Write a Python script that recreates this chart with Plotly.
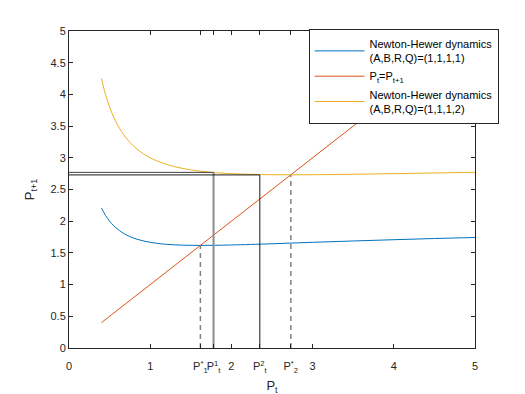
import plotly.graph_objects as go

# ── Data ──
p_t = [0.4, 0.45, 0.5, 0.55, 0.6, 0.7, 0.8, 0.9, 1.0, 1.2, 1.4, 1.6, 1.8,
       2.0, 2.5, 3.0, 3.5, 4.0, 4.5, 5.0]
nh_q1 = [2.208, 2.091, 2.000, 1.929, 1.872, 1.788, 1.732, 1.694, 1.667, 1.635,
         1.622, 1.618, 1.620, 1.625, 1.644, 1.667, 1.688, 1.708, 1.727, 1.743]
nh_q2 = [4.250, 3.998, 3.800, 3.642, 3.513, 3.318, 3.179, 3.077, 3.000, 2.896,
         2.832, 2.792, 2.766, 2.750, 2.733, 2.733, 2.740, 2.750, 2.761, 2.771]
diag_x = [0.4, 5.0]
diag_y = [0.4, 5.0]

p1_star = 1.618
p2_star = 2.732
pt1, pt1_next = 1.78, 2.77
pt2, pt2_next = 2.35, 2.73

BLUE, ORANGE, YELLOW = '#0072BD', '#D95319', '#EDB120'
AX = '#262626'
FONT = 'Liberation Sans, Arial, sans-serif'

fig = go.Figure()

fig.add_trace(go.Scatter(x=p_t, y=nh_q1, mode='lines', line_shape='spline',
    name='Newton-Hewer dynamics<br>(A,B,R,Q)=(1,1,1,1)',
    line=dict(color=BLUE, width=1)))
fig.add_trace(go.Scatter(x=diag_x, y=diag_y, mode='lines',
    name='P<sub>t</sub>=P<sub>t+1</sub>',
    line=dict(color=ORANGE, width=1)))
fig.add_trace(go.Scatter(x=p_t, y=nh_q2, mode='lines', line_shape='spline',
    name='Newton-Hewer dynamics<br>(A,B,R,Q)=(1,1,1,2)',
    line=dict(color=YELLOW, width=1)))

# fixed points (dashed)
for ps in [p1_star, p2_star]:
    fig.add_trace(go.Scatter(x=[ps, ps], y=[0, ps], mode='lines', showlegend=False,
        line=dict(color='#808080', width=1.5, dash='5px,4px')))

# iterates
fig.add_trace(go.Scatter(x=[0, pt1], y=[pt1_next, pt1_next], mode='lines',
    showlegend=False, line=dict(color='#404040', width=1)))
fig.add_trace(go.Scatter(x=[pt1, pt1], y=[pt1_next, 0], mode='lines',
    showlegend=False, line=dict(color='#8c8c8c', width=2)))
fig.add_trace(go.Scatter(x=[0, pt2, pt2], y=[pt2_next, pt2_next, 0], mode='lines',
    showlegend=False, line=dict(color='#1a1a1a', width=1)))

xt_vals = [0, 1, p1_star, pt1, 2, pt2, p2_star, 3, 4, 5]
xt_text = ['0', '1', 'P<sup>*</sup><sub>1</sub>', 'P<sup>1</sup><sub>t</sub>', '2',
           'P<sup>2</sup><sub>t</sub>', 'P<sup>*</sup><sub>2</sub>', '3', '4', '5']

axis_common = dict(showline=True, linecolor=AX, linewidth=1, mirror='ticks',
    ticks='inside', ticklen=4, tickcolor=AX, showgrid=False, zeroline=False,
    tickfont=dict(family=FONT, size=11, color=AX))

fig.update_xaxes(range=[0, 5], tickvals=xt_vals, ticktext=xt_text, tickangle=0,
    ticklabelstandoff=8,
    title=dict(text='P<sub>t</sub>', font=dict(family=FONT, size=13, color=AX), standoff=7),
    **axis_common)
fig.update_yaxes(range=[0, 5], dtick=0.5,
    title=dict(text='P<sub>t+1</sub>', font=dict(family=FONT, size=13, color=AX), standoff=12),
    **axis_common)

fig.update_layout(
    width=525, height=394,
    margin=dict(l=61, r=58, t=23, b=54),
    plot_bgcolor='white', paper_bgcolor='white',
    font=dict(family=FONT, size=11, color=AX),
    legend=dict(x=0.59, y=1.006, xanchor='left', yanchor='top',
                bgcolor='white', bordercolor=AX, borderwidth=1,
                font=dict(family=FONT, size=11, color='black'),
                itemwidth=50, valign='middle', tracegroupgap=4),
)

fig.write_html("out.html")
